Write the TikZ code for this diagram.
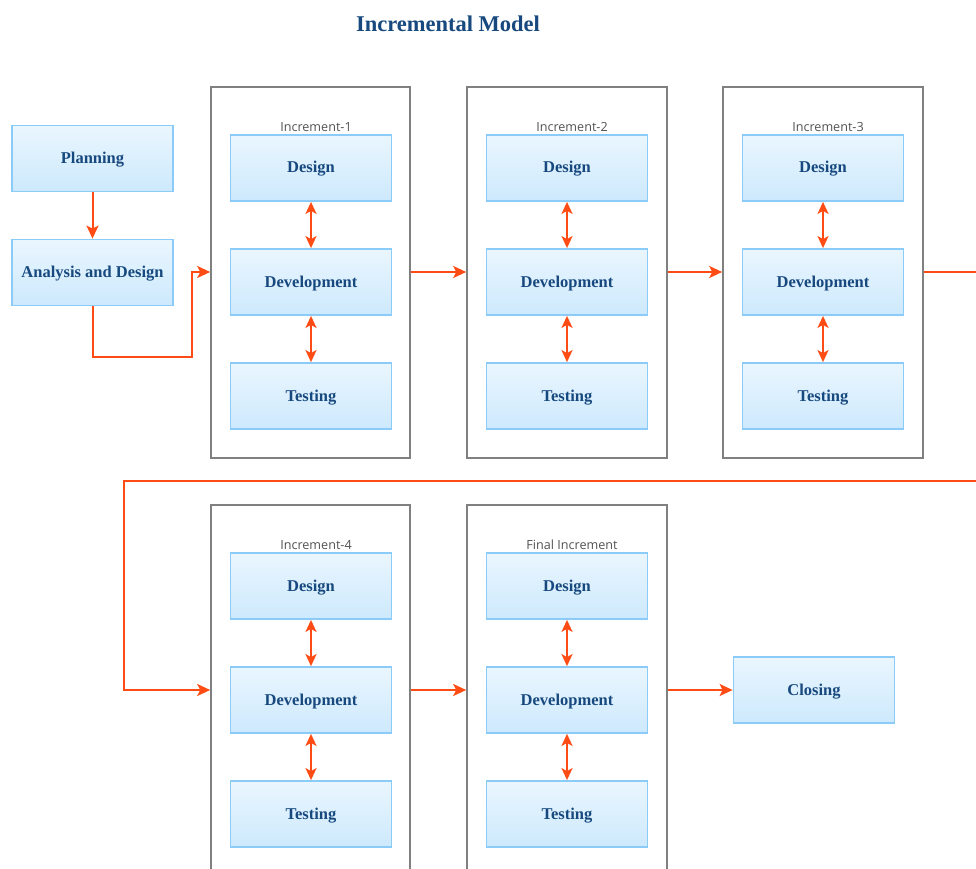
\documentclass[tikz,border=0pt]{standalone}
\usepackage{fontspec}
\setmainfont{Liberation Serif}
\newfontfamily\labelfont{Open Sans}
\usetikzlibrary{arrows.meta,positioning}

\definecolor{boxtop}{HTML}{EAF6FE}
\definecolor{boxbot}{HTML}{CDE9FD}
\definecolor{boxline}{HTML}{8BCBF8}
\definecolor{boxtext}{HTML}{17497F}
\definecolor{flow}{HTML}{FF4C14}
\definecolor{frame}{HTML}{808080}

\tikzset{
  stage/.style={draw=boxline, line width=1.8pt, top color=boxtop, bottom color=boxbot,
    minimum width=161pt, minimum height=66pt, inner sep=0pt,
    text height=11pt, text depth=1pt,
    font=\fontsize{16.5}{19}\selectfont\bfseries, text=boxtext},
  increment/.style={draw=frame, line width=1.6pt, fill=none},
  inclabel/.style={font=\labelfont\fontsize{12.6}{14}\selectfont, text=black!68, inner sep=0pt},
  flowline/.style={draw=flow, line width=2pt},
  flowarrow/.style={flowline, -{Stealth[length=13pt,width=12pt,inset=3pt]}},
  twoway/.style={flowline, {Stealth[length=12pt,width=11pt,inset=3pt]}-{Stealth[length=12pt,width=11pt,inset=3pt]}},
}

\begin{document}
\begin{tikzpicture}[x=1pt,y=-1pt]
\clip (0,0) rectangle (976,869);
\fill[white] (0,0) rectangle (976,869);

\node[font=\fontsize{22.5}{26}\selectfont\bfseries, text=boxtext] (title) at (448,24) {Incremental Model};

% preparation stages
\node[stage] (plan) at (92.5,158.5) {Planning};
\node[stage] (anal) at (92.5,272.5) {Analysis and Design};

% increment frames (upper row)
\node[increment, minimum width=199pt, minimum height=371pt] (inc1) at (310.5,272.5) {};
\node[increment, minimum width=200pt, minimum height=371pt] (inc2) at (567,272.5) {};
\node[increment, minimum width=200pt, minimum height=371pt] (inc3) at (823,272.5) {};

% increment frames (lower row, running past the lower edge)
\node[increment, minimum width=199pt, minimum height=400pt] (inc4) at (310.5,705) {};
\node[increment, minimum width=200pt, minimum height=400pt] (inc5) at (567,705) {};

% stages inside each increment
\foreach \n/\x/\y/\lab in {a/311/0/Increment-1, b/567/0/Increment-2, c/823/0/Increment-3,
                           d/311/418/Increment-4, e/567/418/Final Increment}{
  \node[inclabel] (lab\n) at (\x+5,127+\y) {\lab};
  \node[stage] (des\n) at (\x,168+\y) {Design};
  \node[stage] (dev\n) at (\x,282+\y) {Development};
  \node[stage] (tst\n) at (\x,396+\y) {Testing};
  \draw[twoway] (des\n) -- (dev\n);
  \draw[twoway] (dev\n) -- (tst\n);
}

\node[stage] (close) at (814,690) {Closing};

% flow between stages
\coordinate (edgeA) at (976,272);
\coordinate (edgeB) at (976,481);
\coordinate (turnA) at (92.5,357);
\coordinate (turnB) at (192,357);
\coordinate (turnC) at (192,272);
\coordinate (turnD) at (124,481);
\coordinate (turnE) at (124,690);

\draw[flowarrow] (plan) -- (anal);
\draw[flowarrow] (anal.south) -- (turnA) -- (turnB) -- (turnC) -- (inc1.west |- turnC);
\draw[flowarrow] (inc1.east |- edgeA) -- (inc2.west |- edgeA);
\draw[flowarrow] (inc2.east |- edgeA) -- (inc3.west |- edgeA);
\draw[flowline] (inc3.east |- edgeA) -- (edgeA);
\draw[flowarrow] (edgeB) -- (turnD) -- (turnE) -- (inc4.west |- turnE);
\draw[flowarrow] (inc4.east |- turnE) -- (inc5.west |- turnE);
\draw[flowarrow] (inc5.east |- turnE) -- (close.west);
\end{tikzpicture}
\end{document}
